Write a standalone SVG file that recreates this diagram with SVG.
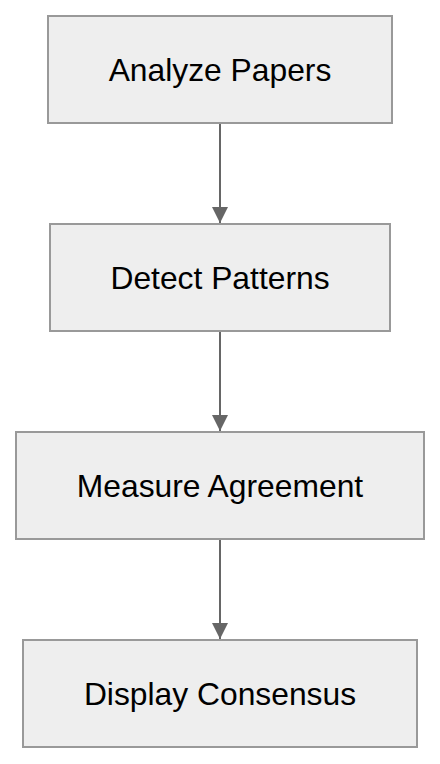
<svg xmlns="http://www.w3.org/2000/svg" width="440" height="764" viewBox="0 0 440 764">
<style>
.box{fill:#eeeeee;stroke:#999999;stroke-width:2}
.lbl{font-family:"Liberation Sans",Arial,Helvetica,sans-serif;font-size:31.8px;fill:#000;text-anchor:middle}
.edge{stroke:#666666;stroke-width:2;fill:none}
</style>
<defs>
<marker id="arr" markerUnits="userSpaceOnUse" markerWidth="16" markerHeight="16" viewBox="0 0 16 16" refX="16" refY="8" orient="auto">
<path d="M0,0 L16,8 L0,16 z" fill="#666666"/>
</marker>
</defs>
<g id="connectors">
<line class="edge" x1="220" y1="124" x2="220" y2="223" marker-end="url(#arr)"/>
<line class="edge" x1="220" y1="332" x2="220" y2="431" marker-end="url(#arr)"/>
<line class="edge" x1="220" y1="540" x2="220" y2="639" marker-end="url(#arr)"/>
</g>
<g id="analyze">
<rect class="box" x="48" y="16" width="344" height="107"/>
<text class="lbl" x="220" y="80.5">Analyze Papers</text>
</g>
<g id="detect">
<rect class="box" x="50" y="224" width="340" height="107"/>
<text class="lbl" x="220" y="288.5">Detect Patterns</text>
</g>
<g id="measure">
<rect class="box" x="16" y="432" width="408" height="107"/>
<text class="lbl" x="220" y="496.5">Measure Agreement</text>
</g>
<g id="display">
<rect class="box" x="23" y="640" width="394" height="107"/>
<text class="lbl" x="220" y="704.5">Display Consensus</text>
</g>
</svg>
